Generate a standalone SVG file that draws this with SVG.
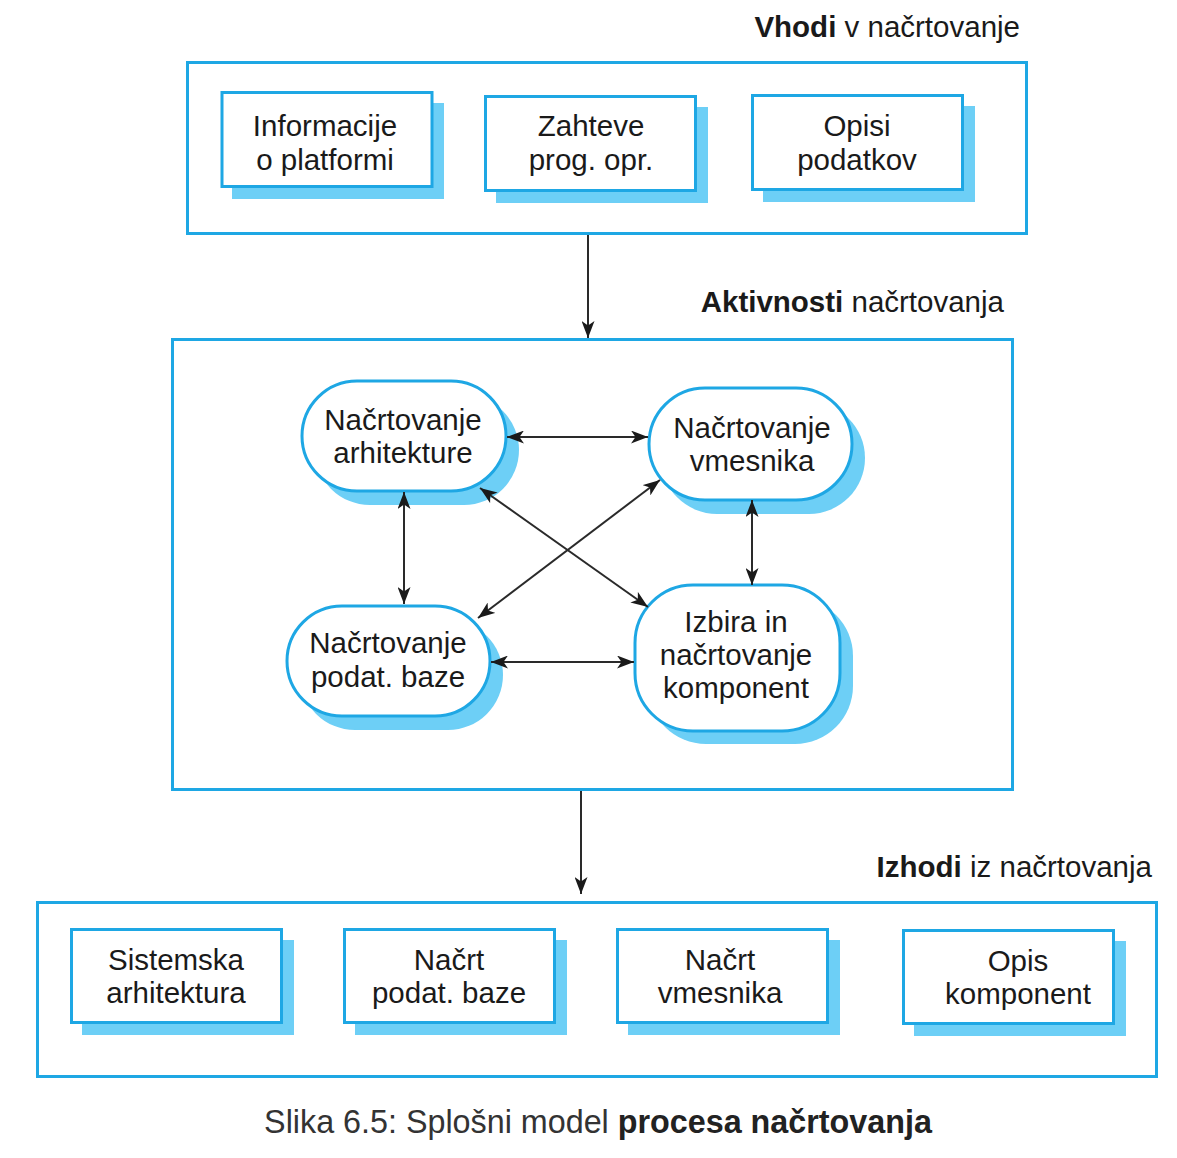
<svg xmlns="http://www.w3.org/2000/svg" width="1177" height="1158" viewBox="0 0 1177 1158">
<style>
.frame{fill:#fff;stroke:#1ea7e4;stroke-width:3}
.box{fill:#fff;stroke:#1ea7e4;stroke-width:3}
.sh{fill:#6dcff6;stroke:none}
.t{font-family:"Liberation Sans",Arial,Helvetica,sans-serif;font-size:29.5px;fill:#1a1a1a;text-anchor:middle}
.ttl{font-family:"Liberation Sans",Arial,Helvetica,sans-serif;font-size:29.5px;fill:#1a1a1a;text-anchor:end}
.b{font-weight:bold}
.cap{font-family:"Liberation Sans",Arial,Helvetica,sans-serif;font-size:32.3px;fill:#333;text-anchor:middle}
.ln{stroke:#2a2a2a;stroke-width:2;fill:none}
</style>
<defs>
<marker id="ah" viewBox="0 0 17 13" refX="17" refY="6.5" markerWidth="17" markerHeight="13" markerUnits="userSpaceOnUse" orient="auto-start-reverse">
<path d="M0,0 L17,6.5 L0,13 L4.5,6.5 z" fill="#1a1a1a"/>
</marker>
</defs>
<rect width="1177" height="1158" fill="#fff"/>

<g id="frame-inputs">
<rect class="frame" x="187.5" y="62.5" width="839" height="171"/>
<text class="ttl" x="1020" y="37"><tspan class="b">Vhodi</tspan> v načrtovanje</text>
</g>
<g id="frame-activities">
<rect class="frame" x="172.5" y="339.5" width="840" height="450"/>
<text class="ttl" x="1004" y="312"><tspan class="b">Aktivnosti</tspan> načrtovanja</text>
</g>
<g id="frame-outputs">
<rect class="frame" x="37.5" y="902.5" width="1119" height="174"/>
<text class="ttl" x="1152" y="877"><tspan class="b">Izhodi</tspan> iz načrtovanja</text>
</g>

<g id="in-platform">
<rect class="sh" x="232" y="103" width="212" height="96"/>
<rect class="box" x="222" y="92.5" width="210" height="94"/>
<text class="t" x="325" y="136">Informacije</text>
<text class="t" x="325" y="170">o platformi</text>
</g>
<g id="in-requirements">
<rect class="sh" x="496" y="107" width="212" height="96"/>
<rect class="box" x="485.5" y="96.5" width="210" height="94"/>
<text class="t" x="591" y="136">Zahteve</text>
<text class="t" x="591" y="170">prog. opr.</text>
</g>
<g id="in-data">
<rect class="sh" x="763" y="106" width="212" height="96"/>
<rect class="box" x="752.5" y="95.5" width="210" height="94"/>
<text class="t" x="857" y="136">Opisi</text>
<text class="t" x="857" y="170">podatkov</text>
</g>

<g id="act-architecture">
<rect class="sh" x="315" y="395" width="204" height="110" rx="55"/>
<rect class="box" x="302" y="381" width="204" height="110" rx="55"/>
<text class="t" x="403" y="430">Načrtovanje</text>
<text class="t" x="403" y="463">arhitekture</text>
</g>
<g id="act-interface">
<rect class="sh" x="661" y="402" width="204" height="112" rx="56"/>
<rect class="box" x="649" y="388" width="203" height="112" rx="56"/>
<text class="t" x="752" y="438">Načrtovanje</text>
<text class="t" x="752" y="471">vmesnika</text>
</g>
<g id="act-database">
<rect class="sh" x="300" y="620" width="203" height="110" rx="55"/>
<rect class="box" x="287" y="606" width="203" height="110" rx="55"/>
<text class="t" x="388" y="653">Načrtovanje</text>
<text class="t" x="388" y="687">podat. baze</text>
</g>
<g id="act-components">
<rect class="sh" x="648" y="598" width="205" height="146" rx="58"/>
<rect class="box" x="635" y="585" width="205" height="146" rx="58"/>
<text class="t" x="736" y="632">Izbira in</text>
<text class="t" x="736" y="665">načrtovanje</text>
<text class="t" x="736" y="698">komponent</text>
</g>

<g id="out-system">
<rect class="sh" x="82" y="940" width="212" height="95"/>
<rect class="box" x="71.5" y="929.5" width="210" height="93"/>
<text class="t" x="176" y="970">Sistemska</text>
<text class="t" x="176" y="1003">arhitektura</text>
</g>
<g id="out-database">
<rect class="sh" x="355" y="940" width="212" height="95"/>
<rect class="box" x="344.5" y="929.5" width="210" height="93"/>
<text class="t" x="449" y="970">Načrt</text>
<text class="t" x="449" y="1003">podat. baze</text>
</g>
<g id="out-interface">
<rect class="sh" x="628" y="940" width="212" height="95"/>
<rect class="box" x="617.5" y="929.5" width="210" height="93"/>
<text class="t" x="720" y="970">Načrt</text>
<text class="t" x="720" y="1003">vmesnika</text>
</g>
<g id="out-components">
<rect class="sh" x="914" y="941" width="212" height="95"/>
<rect class="box" x="903.5" y="930.5" width="210" height="93"/>
<text class="t" x="1018" y="971">Opis</text>
<text class="t" x="1018" y="1004">komponent</text>
</g>

<g id="connectors">
<line class="ln" x1="588" y1="235" x2="588" y2="338" marker-end="url(#ah)"/>
<line class="ln" x1="581" y1="791" x2="581" y2="894" marker-end="url(#ah)"/>
<line class="ln" x1="507" y1="437" x2="648" y2="437" marker-start="url(#ah)" marker-end="url(#ah)"/>
<line class="ln" x1="404" y1="492" x2="404" y2="604" marker-start="url(#ah)" marker-end="url(#ah)"/>
<line class="ln" x1="752" y1="500" x2="752" y2="585" marker-start="url(#ah)" marker-end="url(#ah)"/>
<line class="ln" x1="491" y1="662" x2="634" y2="662" marker-start="url(#ah)" marker-end="url(#ah)"/>
<line class="ln" x1="480" y1="488" x2="648" y2="607" marker-start="url(#ah)" marker-end="url(#ah)"/>
<line class="ln" x1="478" y1="618" x2="660" y2="480" marker-start="url(#ah)" marker-end="url(#ah)"/>
</g>

<g id="caption">
<text class="cap" x="598" y="1133">Slika 6.5: Splošni model <tspan class="b" fill="#222">procesa načrtovanja</tspan></text>
</g>
</svg>
